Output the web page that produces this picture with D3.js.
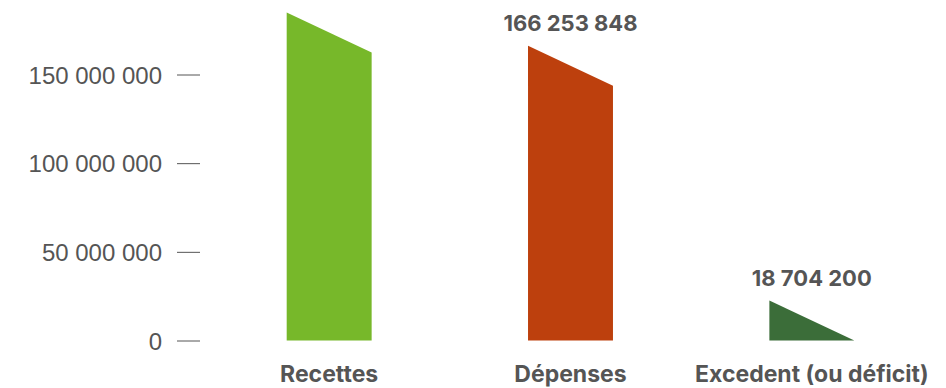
<!DOCTYPE html>
<html>
<head>
<meta charset="utf-8">
<script src="https://cdn.jsdelivr.net/npm/d3@7"></script>
<style>
  body { margin: 0; background: #fff; }
  svg { display: block; font-family: Inter, sans-serif; }
  .y-axis text { fill: #555; font-size: 24px; }
  .y-axis line { stroke: #555; }
  .cat { fill: #555; font-size: 23px; font-weight: bold; }
  .val { fill: #555; font-size: 22px; font-weight: bold; }
</style>
</head>
<body>
<svg id="chart" width="946" height="388"></svg>
<script>
const categories = ["Recettes", "Dépenses", "Excedent (ou déficit)"];
const values = [184958048, 166253848, 18704200];
const colors = ["#77b82a", "#bd400d", "#3b6d39"];
const yTicks = [0, 50000000, 100000000, 150000000];

const svg = d3.select("#chart"),
    width = +svg.attr("width"),
    height = +svg.attr("height");

const slant = 40;
const spaceFmt = v => d3.format(",")(v).replace(/,/g, " ");

const x = d3.scaleBand()
    .domain(categories)
    .range([208.5, 932.5])
    .paddingInner(0.648)
    .paddingOuter(0.324);

const y = d3.scaleLinear()
    .domain([0, 150000000])
    .range([340.5, 74.5]);

svg.append("g")
    .attr("class", "y-axis")
    .attr("transform", "translate(200,0)")
    .call(d3.axisLeft(y).tickValues(yTicks).tickSize(23).tickPadding(15).tickFormat(spaceFmt))
    .call(g => g.select(".domain").remove())
    .call(g => g.selectAll("text").attr("dy", "0.36em"));

const data = categories.map((c, i) => ({cat: c, val: values[i], color: colors[i]}));

// top-left corner of a bar; triangles keep at least the slant height
const barTop = d => Math.min(y(d.val), y(0) - slant);

svg.append("g").selectAll("path")
    .data(data)
    .join("path")
    .attr("fill", d => d.color)
    .attr("d", d => {
        const x0 = x(d.cat), x1 = x0 + x.bandwidth(), base = y(0);
        const top = barTop(d);
        const right = Math.min(top + slant, base);
        return "M" + x0 + "," + base + "L" + x0 + "," + top +
            "L" + x1 + "," + right + "L" + x1 + "," + base + "Z";
    });

// value labels that would fall off the top are dropped, like the original
svg.append("g").selectAll("text")
    .data(data.filter(d => barTop(d) - 15 > 20))
    .join("text")
    .attr("class", "val")
    .attr("text-anchor", "middle")
    .attr("x", d => x(d.cat) + x.bandwidth() / 2)
    .attr("y", d => barTop(d) - 15)
    .text(d => spaceFmt(d.val));

svg.append("g").selectAll("text")
    .data(data)
    .join("text")
    .attr("class", "cat")
    .attr("text-anchor", "middle")
    .attr("x", d => x(d.cat) + x.bandwidth() / 2)
    .attr("y", 382)
    .text(d => d.cat);
</script>
</body>
</html>
